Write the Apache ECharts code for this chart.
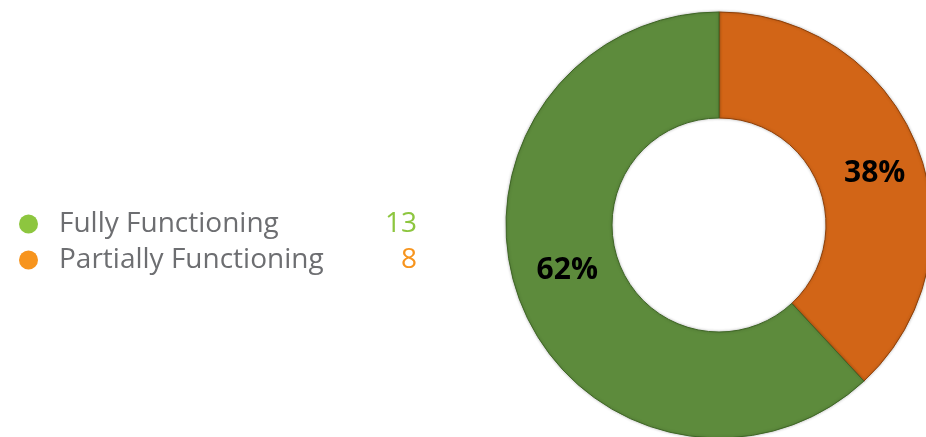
<!DOCTYPE html>
<html>
<head>
<meta charset="utf-8">
<script src="https://cdn.jsdelivr.net/npm/echarts@6/dist/echarts.min.js"></script>
<style>
html,body{margin:0;padding:0;background:#fff;}
#chart{width:926px;height:437px;}
</style>
</head>
<body>
<div id="chart"></div>
<script>
// Data
var categories = ['Fully Functioning', 'Partially Functioning'];
var counts = [13, 8];
var sliceColors = ['#5D8B3C', '#D26517'];
var legendColors = ['#8DC63F', '#F7941D'];

var chart = echarts.init(document.getElementById('chart'), null, {renderer: 'canvas'});

// Pie drawn with Partially first so it starts at 12 o'clock going clockwise
var pieOrder = [1, 0];
var labelOffsets = [[0, -14], [4, 8]];
var pieData = pieOrder.map(function (i) {
  return {
    name: categories[i],
    value: counts[i],
    label: { offset: labelOffsets[i] },
    itemStyle: {
      color: sliceColors[i],
      borderColor: i === 0 ? '#3F6626' : '#8E4009',
      borderWidth: 1,
      shadowBlur: 3,
      shadowColor: 'rgba(0,0,0,0.25)'
    }
  };
});

var valueByName = {};
categories.forEach(function (c, i) { valueByName[c] = counts[i]; });
var colorKey = {};
categories.forEach(function (c, i) { colorKey[c] = i === 0 ? 'vg' : 'vo'; });

chart.setOption({
  animation: false,
  backgroundColor: '#ffffff',
  legend: {
    orient: 'vertical',
    left: 14,
    top: 205,
    icon: 'circle',
    itemWidth: 19,
    itemHeight: 19,
    itemGap: 8,
    selectedMode: false,
    data: categories.map(function (c, i) {
      return { name: c, itemStyle: { color: legendColors[i], borderWidth: 0, shadowBlur: 0 } };
    }),
    formatter: function (name) {
      return '{n|' + name + '}{' + colorKey[name] + '|' + valueByName[name] + '}';
    },
    textStyle: {
      rich: {
        n: { fontFamily: 'Open Sans', fontSize: 28, color: '#6D6E71', width: 310, lineHeight: 34, padding: [0, 0, 0, 16] },
        vg: { fontFamily: 'Open Sans', fontSize: 28, color: '#8DC63F', width: 48, align: 'right', lineHeight: 34 },
        vo: { fontFamily: 'Open Sans', fontSize: 28, color: '#F7941D', width: 48, align: 'right', lineHeight: 34 }
      }
    }
  },
  series: [{
    type: 'pie',
    center: [719, 225],
    radius: [107, 213],
    startAngle: 90,
    clockwise: true,
    percentPrecision: 0,
    avoidLabelOverlap: false,
    label: {
      show: true,
      position: 'inside',
      formatter: '{d}%',
      fontFamily: 'Open Sans',
      fontWeight: 'bold',
      fontSize: 30,
      color: '#000000'
    },
    labelLine: { show: false },
    emphasis: { disabled: true },
    data: pieData
  }]
});
</script>
</body>
</html>
